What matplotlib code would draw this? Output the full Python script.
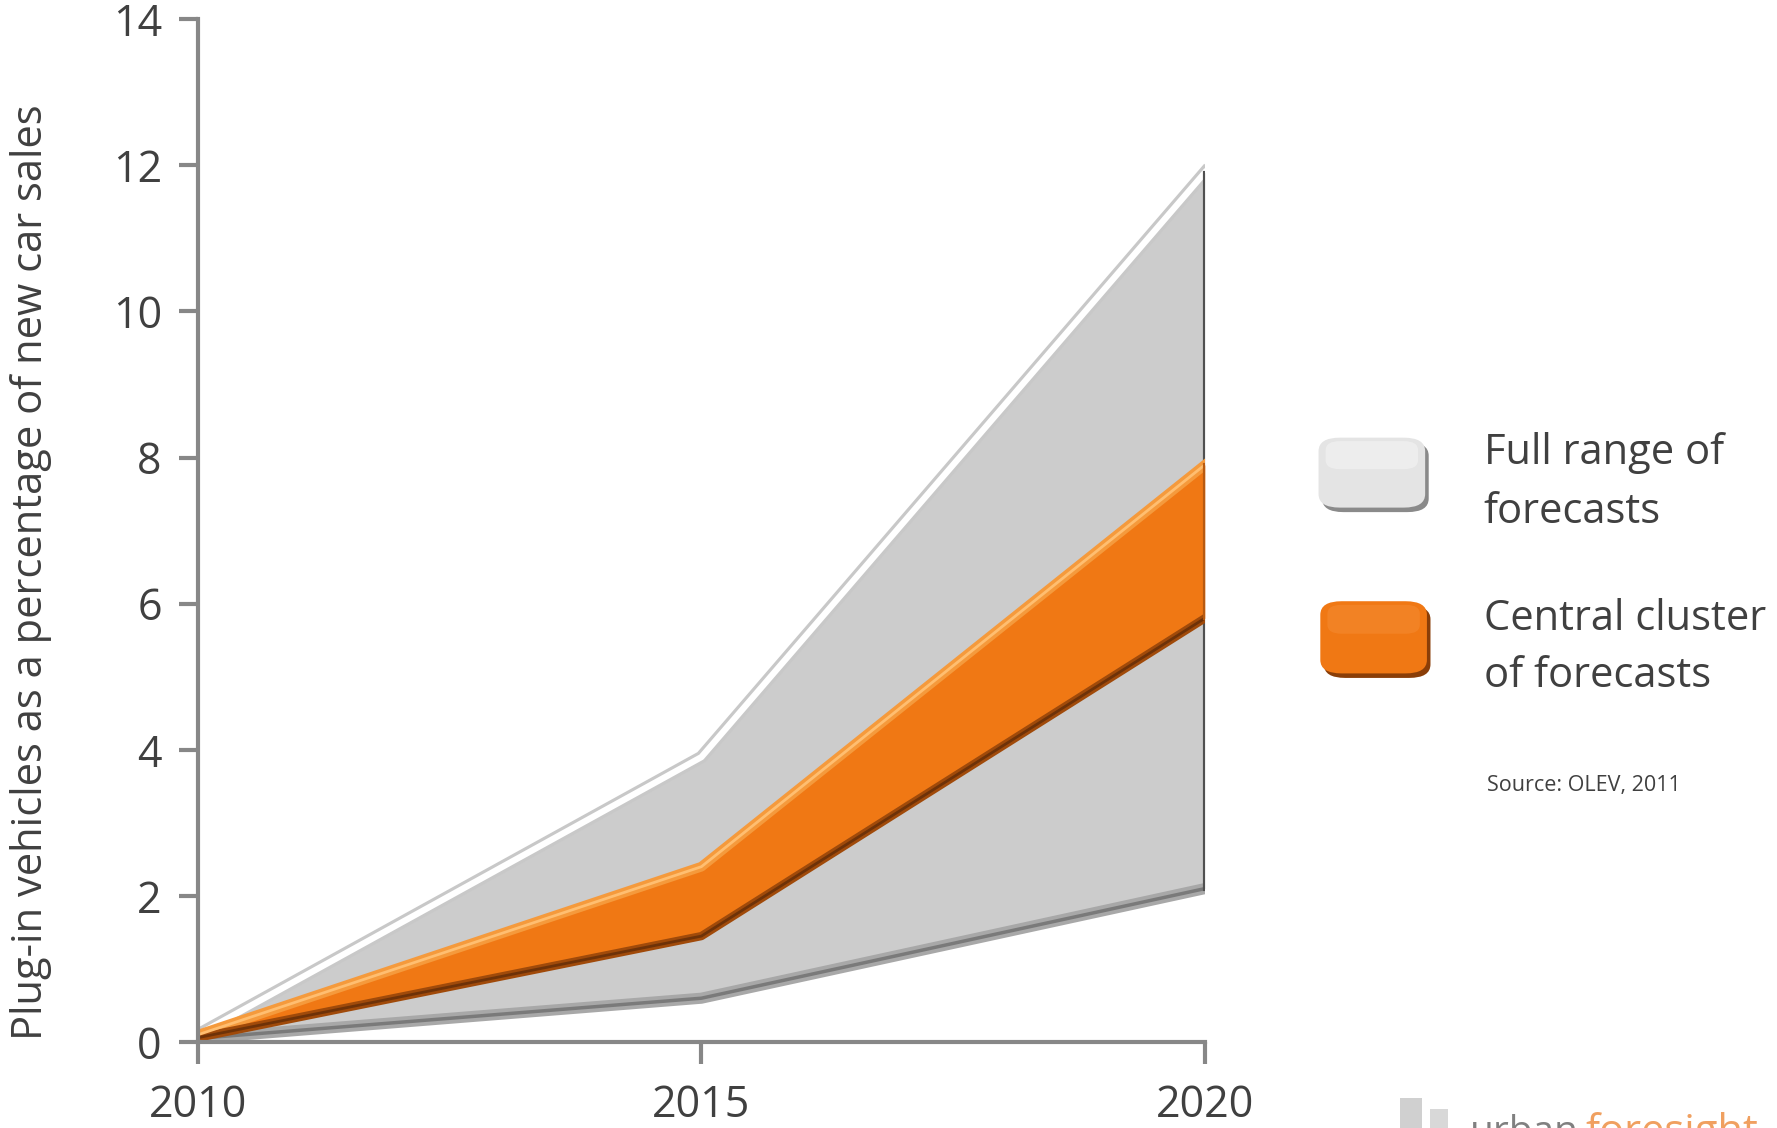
import matplotlib.pyplot as plt
from matplotlib.patches import FancyBboxPatch

plt.rcParams['font.family'] = ['Open Sans', 'DejaVu Sans']

# Data
years = [2010, 2015, 2020]
full_low = [0.05, 0.6, 2.1]
full_high = [0.1, 3.9, 11.9]
central_low = [0.06, 1.45, 5.8]
central_high = [0.1, 2.4, 7.9]
yticks = [0, 2, 4, 6, 8, 10, 12, 14]
xticks = [2010, 2015, 2020]

text_col = "#404040"
axis_col = "#878787"

fig = plt.figure(figsize=(17.77, 11.28), dpi=100)
ax = fig.add_axes([0.1114, 0.0762, 0.5666, 0.9068])

# Full range band (grey, bevelled look)
ax.fill_between(years, full_low, full_high, color="#cccccc", lw=0, zorder=2)
ax.plot(years, full_high, color="#c8c8c8", lw=9, solid_joinstyle="round", zorder=3)
ax.plot(years, full_high, color="white", lw=4.5, solid_joinstyle="round", zorder=4)
ax.plot(years, full_low, color="#a8a8a8", lw=8, solid_joinstyle="round", zorder=3)
ax.plot(years, full_low, color="#7a7a7a", lw=2.5, solid_joinstyle="round", zorder=4)
ax.plot([years[-1], years[-1]], [full_low[-1], full_high[-1]],
        color="#505050", lw=3, zorder=5)

# Central cluster band (orange)
ax.fill_between(years, central_low, central_high, color="#f07814", lw=0, zorder=6)
ax.plot(years, central_high, color="#f59a3c", lw=7, solid_joinstyle="round", zorder=7)
ax.plot(years, central_high, color="#ffbe70", lw=2, solid_joinstyle="round", zorder=8)
ax.plot(years, central_low, color="#a04a0a", lw=6, solid_joinstyle="round", zorder=7)
ax.plot(years, central_low, color="#6e3208", lw=2, solid_joinstyle="round", zorder=8)
ax.plot([years[-1], years[-1]], [central_low[-1], central_high[-1]],
        color="#b85a10", lw=3, zorder=9)

ax.set_xlim(2010, 2020)
ax.set_ylim(0, 14)
ax.set_xticks(xticks)
ax.set_yticks(yticks)
ax.set_xticklabels([str(x) for x in xticks], fontsize=31, color=text_col)
ax.set_yticklabels([str(y) for y in yticks], fontsize=31, color=text_col)
ax.tick_params(axis="y", length=14, width=3, color=axis_col, pad=12)
ax.tick_params(axis="x", length=16, width=3, color=axis_col, pad=14)

for side in ["top", "right"]:
    ax.spines[side].set_visible(False)
for side in ["left", "bottom"]:
    ax.spines[side].set_color(axis_col)
    ax.spines[side].set_linewidth(3)
ax.spines["left"].set_zorder(10)
ax.spines["bottom"].set_zorder(10)

ax.set_ylabel("Plug-in vehicles as a percentage of new car sales",
              fontsize=30, color=text_col)
ax.yaxis.set_label_coords(-0.145, 0.459)

# Legend boxes
def bevel_box(x, y, w, h, face, dark, light):
    shadow = FancyBboxPatch((x + 0.002, y - 0.004), w, h,
                            boxstyle="round,pad=0,rounding_size=0.012",
                            transform=fig.transFigure, fc=dark, ec="none")
    fig.patches.append(shadow)
    box = FancyBboxPatch((x, y), w, h,
                         boxstyle="round,pad=0,rounding_size=0.012",
                         transform=fig.transFigure, fc=face, ec="none")
    fig.patches.append(box)
    top = FancyBboxPatch((x + 0.004, y + h * 0.55), w - 0.008, h * 0.4,
                         boxstyle="round,pad=0,rounding_size=0.008",
                         transform=fig.transFigure, fc=light, ec="none", alpha=0.6)
    fig.patches.append(top)

bevel_box(0.742, 0.550, 0.060, 0.062, "#e4e4e4", "#8a8a8a", "#f4f4f4")
bevel_box(0.743, 0.403, 0.060, 0.064, "#f07814", "#8a3e08", "#f58a30")

fig.text(0.835, 0.598, "Full range of", fontsize=30, color=text_col, va="center")
fig.text(0.835, 0.546, "forecasts", fontsize=30, color=text_col, va="center")
fig.text(0.835, 0.451, "Central cluster", fontsize=30, color=text_col, va="center")
fig.text(0.835, 0.401, "of forecasts", fontsize=30, color=text_col, va="center")
fig.text(0.837, 0.304, "Source: OLEV, 2011", fontsize=15.5, color=text_col, va="center")

# Partially visible logo at the bottom right
fig.patches.append(plt.Rectangle((0.788, 0.0), 0.012, 0.027, transform=fig.transFigure,
                                 fc="#d0d0d0", ec="none"))
fig.patches.append(plt.Rectangle((0.805, 0.0), 0.010, 0.017, transform=fig.transFigure,
                                 fc="#d8d8d8", ec="none"))
fig.text(0.827, -0.004, "urban", fontsize=28, color="#808080", va="center")
fig.text(0.892, -0.004, "foresight", fontsize=30, color="#f0a060", va="center")

fig.savefig("out.png", dpi=100)
